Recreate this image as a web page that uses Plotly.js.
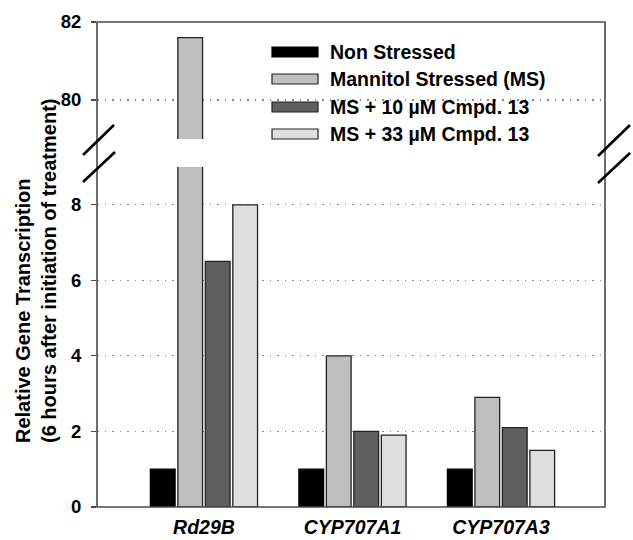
<!DOCTYPE html>
<html>
<head>
<meta charset="utf-8">
<script src="https://cdn.plot.ly/plotly-3.0.1.min.js"></script>
<style>
  html, body { margin: 0; padding: 0; background: #fff; }
  #chart { width: 633px; height: 540px; }
</style>
</head>
<body>
<div id="chart"></div>
<script>
// Genes on the x axis
const genes = ["Rd29B", "CYP707A1", "CYP707A3"];

// Treatment series (relative transcription, 6 h after treatment)
const seriesNames = [
  "Non Stressed",
  "Mannitol Stressed (MS)",
  "MS + 10 \u00B5M Cmpd. 13",
  "MS + 33 \u00B5M Cmpd. 13"
];
const nonStressed = [1.0, 1.0, 1.0];
const mannitol    = [81.6, 4.0, 2.9];
const ms10        = [6.5, 2.0, 2.1];
const ms33        = [8.0, 1.9, 1.5];
const seriesValues = [nonStressed, mannitol, ms10, ms33];

const fillColors = ["#000000", "#bfbfbf", "#5f5f5f", "#dedede"];
const lineColors = ["#000000", "#222222", "#222222", "#222222"];

// Broken y axis: lower panel and upper panel
const lowerTicks = [0, 2, 4, 6, 8];
const upperTicks = [80, 82];
const lowerRange = [0, 9];
const upperRange = [79, 82];

// Plot-area geometry in pixels, used for decorations
const L = 97, R = 605, T = 22, B = 507;
const W = R - L, H = B - T;
const px = x => (x - L) / W;
const py = y => (B - y) / H;

const FONT = "Liberation Sans, Arial, Helvetica, sans-serif";

const traces = [];
seriesNames.forEach((name, i) => {
  ["y", "y2"].forEach(ax => {
    traces.push({
      type: "bar",
      name: name,
      x: genes,
      y: seriesValues[i],
      yaxis: ax,
      xaxis: "x",
      marker: { color: fillColors[i], line: { color: lineColors[i], width: 1.3 } },
      showlegend: false,
      hoverinfo: "skip",
      cliponaxis: true
    });
  });
});

const shapes = [];
const annotations = [];

// Frame around the whole plot area
shapes.push({
  type: "rect", xref: "paper", yref: "paper", x0: 0, x1: 1, y0: 0, y1: 1,
  line: { color: "#4a4a4a", width: 1.6 }, layer: "above"
});

// Axis-break slashes on both sides
[[83, 155, 114, 125], [83, 182, 115, 152], [598, 156, 630, 125], [598, 183, 630, 153]].forEach(s => {
  shapes.push({
    type: "line", xref: "paper", yref: "paper",
    x0: px(s[0]), y0: py(s[1]), x1: px(s[2]), y1: py(s[3]),
    line: { color: "#000", width: 2.6 }, layer: "above"
  });
});

// Legend built from the series names and colours
const legRows = [52, 79, 107, 134];
seriesNames.forEach((name, i) => {
  const yc = legRows[i];
  shapes.push({
    type: "rect", xref: "paper", yref: "paper",
    x0: px(272), x1: px(318), y0: py(yc + 5), y1: py(yc - 5),
    fillcolor: fillColors[i], line: { color: lineColors[i], width: 1.2 }, layer: "above"
  });
  annotations.push({
    xref: "paper", yref: "paper", x: px(328), y: py(yc),
    xanchor: "left", yanchor: "middle", showarrow: false,
    text: name,
    font: { family: FONT, size: 19.5, color: "#000", weight: "bold" }
  });
});

// Y-axis title spanning both panels
annotations.push({
  xref: "paper", yref: "paper", x: px(36), y: py(271),
  xanchor: "center", yanchor: "middle", showarrow: false, textangle: -90,
  align: "left",
  text: "Relative Gene Transcription<br>(6 hours after initiation of treatment)",
  font: { family: FONT, size: 20, color: "#000", weight: "bold" }
});

const yCommon = {
  tickmode: "array",
  ticks: "outside", ticklen: 5, tickwidth: 1.2, tickcolor: "#4a4a4a",
  showline: false, zeroline: false,
  showgrid: true, gridcolor: "#8a8a8a", griddash: "1.5px,6px", gridwidth: 1.2,
  tickfont: { family: FONT, size: 18.5, color: "#000", weight: "bold" },
  ticklabelstandoff: 6,
  fixedrange: true
};

const layout = {
  width: 633, height: 540,
  margin: { l: L, r: 633 - R, t: T, b: 540 - B, pad: 0 },
  paper_bgcolor: "#fff", plot_bgcolor: "#fff",
  barmode: "group", bargap: 0.26, bargroupgap: 0.1,
  showlegend: false,
  xaxis: {
    type: "category", range: [-0.72, 2.70],
    showline: false, ticks: "", showgrid: false, zeroline: false,
    tickfont: { family: FONT, size: 19.5, color: "#000", weight: "bold", style: "italic" },
    ticklabelstandoff: 6,
    anchor: "y", fixedrange: true
  },
  yaxis: Object.assign({}, yCommon, {
    domain: [0, 340 / H], range: lowerRange, tickvals: lowerTicks, anchor: "x"
  }),
  yaxis2: Object.assign({}, yCommon, {
    domain: [1 - 117 / H, 1], range: upperRange, tickvals: upperTicks, anchor: "x"
  }),
  shapes: shapes,
  annotations: annotations
};

Plotly.newPlot("chart", traces, layout, { displayModeBar: false, staticPlot: true });
</script>
</body>
</html>
